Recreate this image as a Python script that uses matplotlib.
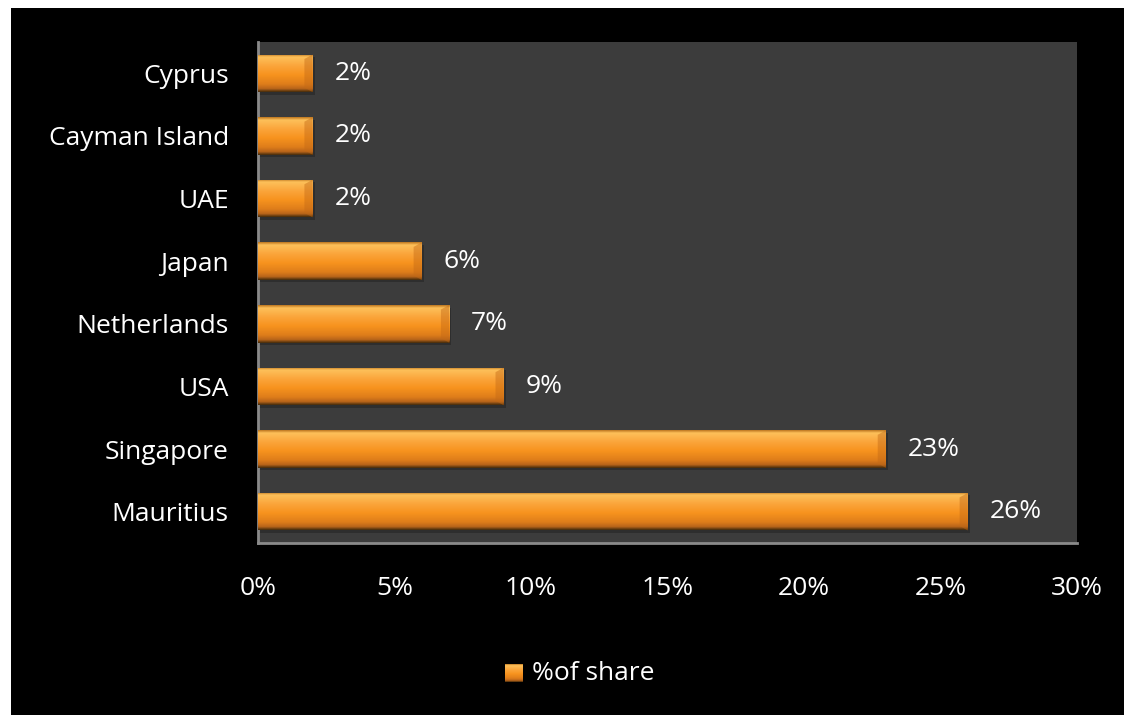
import numpy as np
import matplotlib.pyplot as plt
from matplotlib.colors import LinearSegmentedColormap
from matplotlib.patches import Rectangle

# data (bottom to top as drawn)
countries = ['Mauritius', 'Singapore', 'USA', 'Netherlands', 'Japan', 'UAE', 'Cayman Island', 'Cyprus']
share = [26, 23, 9, 7, 6, 2, 2, 2]
xticks = [0, 5, 10, 15, 20, 25, 30]
series_name = '%of share'

plt.rcParams['font.family'] = ['Open Sans', 'DejaVu Sans']
fs = 19

fig = plt.figure(figsize=(11.24, 7.15), dpi=100, facecolor='white')
# black slide background with thin white margin at left/top
fig.patches.append(Rectangle((11 / 1124, -0.1), 1.2, 1.1 - 8 / 715, transform=fig.transFigure,
                             facecolor='black', edgecolor='none', zorder=-10))

ax = fig.add_axes([258 / 1124, 1 - 543 / 715, (1077 - 258) / 1124, (543 - 42) / 715])
ax.set_facecolor('#3c3c3c')

# vertical gradient for the bevelled bars (top -> bottom)
bar_cmap = LinearSegmentedColormap.from_list('bev', [
    (0.0, '#c07a22'), (0.07, '#fdc05a'), (0.3, '#fba63c'),
    (0.55, '#f7931e'), (0.8, '#de7d1a'), (0.92, '#b8641a'), (1.0, '#4a2e0c')])
grad = np.linspace(0, 1, 64).reshape(-1, 1)

h = 0.6
y = np.arange(len(countries))
# soft shadow under the bars
ax.barh(y - 0.04, share, height=h, left=0.08, color='#222222', alpha=0.5, zorder=1)
bars = ax.barh(y, share, height=h, color='#f7931e', zorder=2)
for b, v in zip(bars, share):
    im = ax.imshow(grad, cmap=bar_cmap, aspect='auto', zorder=3,
                   extent=[0, v, b.get_y(), b.get_y() + h])
    im.set_clip_path(b)
    # bevel at the bar end
    ax.fill([v - 0.3, v, v, v - 0.3], [b.get_y() + h * 0.88, b.get_y() + h, b.get_y(), b.get_y() + h * 0.12],
            color='#c46a16', alpha=0.45, zorder=4, lw=0)
    ax.text(v + 0.8, b.get_y() + h / 2, f'{v}%', color='white', fontsize=fs,
            va='center', ha='left')

ax.set_xlim(0, 30)
ax.set_ylim(-0.5, len(countries) - 0.5)
ax.set_xticks(xticks)
ax.set_xticklabels([f'{t}%' for t in xticks])
ax.set_yticks(y)
ax.set_yticklabels(countries)
ax.tick_params(colors='white', labelsize=fs, length=0)
ax.tick_params(axis='x', pad=24)
ax.tick_params(axis='y', pad=21)
for s in ['top', 'right']:
    ax.spines[s].set_visible(False)
for s in ['left', 'bottom']:
    ax.spines[s].set_color('#8a8a8a')
    ax.spines[s].set_linewidth(2)

# legend
lx, ly = 514 / 1124, 1 - 673 / 715
leg_cmap_im = fig.add_axes([(lx - 9 / 1124), ly - 9 / 715, 18 / 1124, 18 / 715])
leg_cmap_im.imshow(grad, cmap=bar_cmap, aspect='auto')
leg_cmap_im.axis('off')
fig.text(532 / 1124, ly, series_name, color='white', fontsize=fs, va='center', ha='left')

fig.savefig('out.png', dpi=100, facecolor=fig.get_facecolor())
